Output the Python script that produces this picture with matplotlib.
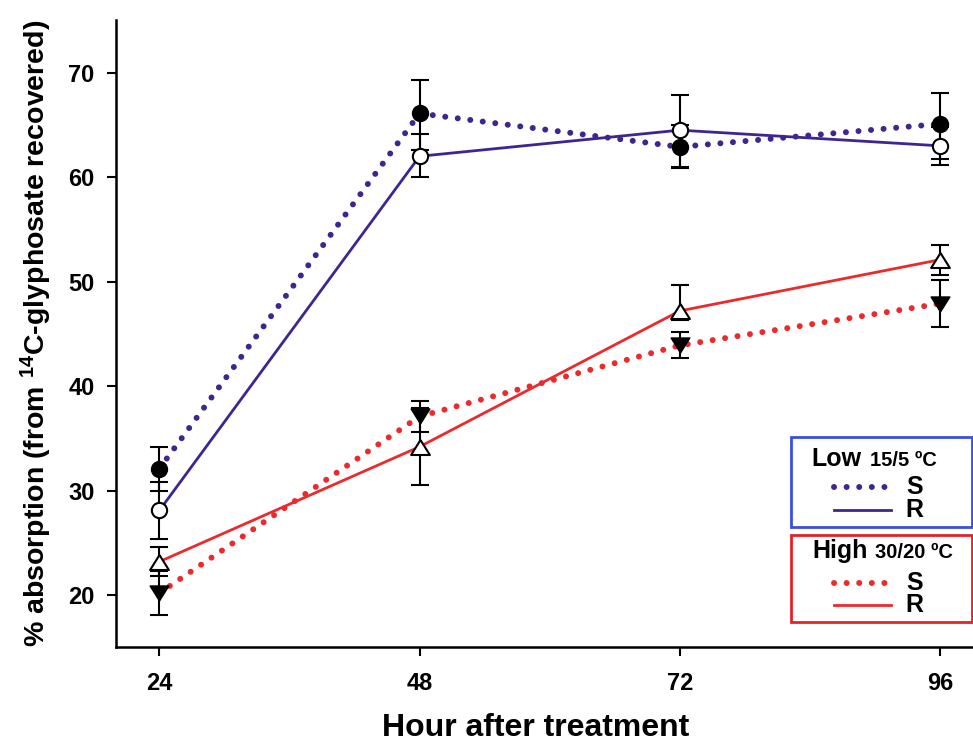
from matplotlib import pyplot as plt
from matplotlib.lines import Line2D
from matplotlib.patches import Rectangle

plt.rcParams['font.family'] = ['Liberation Sans', 'DejaVu Sans']
plt.rcParams['font.weight'] = 'bold'
plt.rcParams['mathtext.fontset'] = 'custom'
plt.rcParams['mathtext.rm'] = 'Liberation Sans:bold'
plt.rcParams['mathtext.default'] = 'rm'

# data
hours = [24, 48, 72, 96]

low_s = [32.1, 66.1, 62.9, 65.1]
low_s_lo = [2.1, 3.5, 2.0, 3.4]
low_s_hi = [2.1, 3.2, 2.1, 3.0]

low_r = [28.1, 62.0, 64.5, 63.0]
low_r_lo = [2.7, 2.0, 3.5, 1.8]
low_r_hi = [2.7, 2.1, 3.4, 1.8]

high_s = [20.2, 37.1, 43.9, 47.9]
high_s_lo = [2.1, 1.5, 1.2, 2.2]
high_s_hi = [2.1, 1.5, 1.3, 2.3]

high_r = [23.2, 34.2, 47.2, 52.1]
high_r_lo = [1.4, 3.7, 0.9, 1.5]
high_r_hi = [1.4, 3.7, 2.5, 1.4]

x_ticks = [24, 48, 72, 96]
y_ticks = [20, 30, 40, 50, 60, 70]

purple = "#3f2590"
red = "#ec2a2c"
blue_box = "#3a4fdc"
red_box = "#e42329"

dotted = (0, (0.01, 2.1))

# triangle shapes a bit wider than tall
tri_up = [(0, 0.8), (-1, -0.8), (1, -0.8), (0, 0.8)]
tri_down = [(0, -0.8), (-1, 0.8), (1, 0.8), (0, -0.8)]

fig = plt.figure(figsize=(9.73, 7.46), dpi=100)
ax = fig.add_axes([0.1192, 0.1322, 0.8808, 0.8404])

# connecting lines
ax.plot(hours, low_s, color=purple, linestyle=dotted, linewidth=4.3, dash_capstyle='round', zorder=2)
ax.plot(hours, low_r, color=purple, linestyle='-', linewidth=2.0, zorder=2)
ax.plot(hours, high_s, color=red, linestyle=dotted, linewidth=4.3, dash_capstyle='round', zorder=2)
ax.plot(hours, high_r, color=red, linestyle='-', linewidth=2.0, zorder=2)

# error bars
for vals, lo, hi in [(low_s, low_s_lo, low_s_hi), (low_r, low_r_lo, low_r_hi),
                     (high_s, high_s_lo, high_s_hi), (high_r, high_r_lo, high_r_hi)]:
    ax.errorbar(hours, vals, yerr=[lo, hi], fmt='none', ecolor='black',
                elinewidth=1.5, capsize=6.8, capthick=1.5, zorder=3)

# markers
ax.plot(hours, low_s, linestyle='none', marker='o', ms=11.5, mfc='black', mec='black', zorder=4)
ax.plot(hours, low_r, linestyle='none', marker='o', ms=11, mfc='white', mec='black', mew=1.5, zorder=4)
ax.plot(hours, high_s, linestyle='none', marker=tri_down, ms=13.5, mfc='black', mec='black', zorder=4)
ax.plot(hours, high_r, linestyle='none', marker=tri_up, ms=13.5, mfc='white', mec='black', mew=1.5, zorder=4)

ax.set_xlim(20, 99.05)
ax.set_ylim(15, 75)
ax.set_xticks(x_ticks)
ax.set_yticks(y_ticks)
ax.tick_params(direction='out', length=6.5, width=1.5, labelsize=17)
ax.tick_params(axis='x', pad=11)
ax.tick_params(axis='y', pad=9)
for side in ['top', 'right']:
    ax.spines[side].set_visible(False)
for side in ['left', 'bottom']:
    ax.spines[side].set_linewidth(1.8)

ax.set_xlabel("Hour after treatment", fontsize=23, fontweight='bold')
ax.xaxis.set_label_coords(0.49, -0.104)
ax.set_ylabel("% absorption (from $^{14}$C-glyphosate recovered)", fontsize=20.5, fontweight='bold', labelpad=10)

# legend boxes (drawn by hand, two groups)
fig.add_artist(Rectangle((0.813, 0.294), 0.186, 0.120, transform=fig.transFigure,
                         fill=False, edgecolor=blue_box, linewidth=2))
fig.add_artist(Rectangle((0.813, 0.1666), 0.186, 0.1162, transform=fig.transFigure,
                         fill=False, edgecolor=red_box, linewidth=2))

fig.text(0.834, 0.3753, "Low", fontsize=18, fontweight='bold', va='baseline')
fig.text(0.894, 0.3753, "15/5 ºC", fontsize=14.5, fontweight='bold', va='baseline')
fig.text(0.8345, 0.252, "High", fontsize=18, fontweight='bold', va='baseline')
fig.text(0.899, 0.252, "30/20 ºC", fontsize=14.5, fontweight='bold', va='baseline')

leg_rows = [(0.3476, purple, dotted, 4.3, "S"), (0.3164, purple, '-', 2.0, "R"),
            (0.2189, red, dotted, 4.3, "S"), (0.189, red, '-', 2.0, "R")]
for y, c, ls, lw, lab in leg_rows:
    fig.add_artist(Line2D([0.857, 0.916], [y, y], transform=fig.transFigure, color=c,
                          linestyle=ls, linewidth=lw, dash_capstyle='round'))
    fig.text(0.931, y, lab, fontsize=18, fontweight='bold', va='center')

fig.savefig("out.png", dpi=100)
